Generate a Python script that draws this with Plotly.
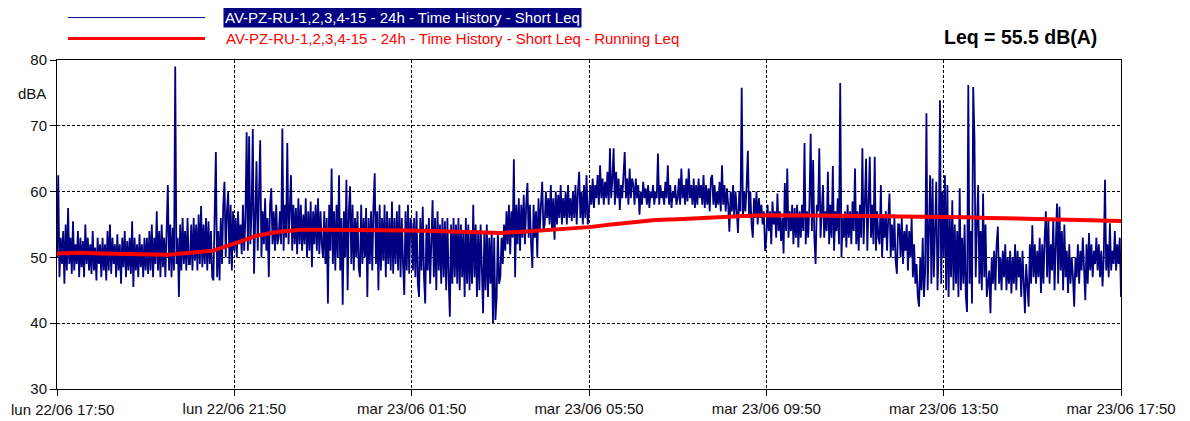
import pandas as pd
import plotly.graph_objects as go

# ---- data ----
start_time = "2020-06-22 17:50"
short_leq_step_s = 100          # 36 readings per hour
short_leq = [
    # 17:50
    50, 62.5, 47, 53, 49, 54, 46, 55, 48, 57.5, 49, 53, 47.5, 55.5, 48, 52, 49, 54, 47, 53,
    48.5, 52.5, 47, 55, 49, 53, 48, 52, 47.5, 54, 48, 51.5, 46.5, 53, 49, 52,
    # 18:50
    47, 53, 48, 52, 46.5, 54, 48, 55, 47.5, 53, 49, 52, 47, 53.5, 48, 52, 46, 53, 48.5, 54,
    47, 52.5, 48, 53, 47.5, 55.5, 45.5, 53, 48, 52, 47, 53.5, 48.5, 52, 47, 53,
    # 19:50
    48, 53, 47.5, 54, 48, 55, 47, 53, 49, 57, 48, 54, 47, 55, 48.5, 53, 47, 54, 61, 48,
    55, 47, 54.5, 48, 79, 49, 53, 44, 55, 48, 56, 49, 54, 48, 56, 49,
    # 20:50
    49, 55, 48, 56, 49.5, 55, 48, 56.5, 49, 57.8, 48.5, 55, 49, 56, 48, 55.5, 49, 54, 47, 46.5,
    55, 66, 47, 54, 46.5, 56, 49, 58, 61.5, 50, 57, 60, 49, 58, 48, 57,
    # 21:50
    51, 56, 50, 57, 52, 55, 50.5, 58, 51, 56, 69, 51, 68.4, 52, 57, 69.5, 47.5, 56, 64.6, 51,
    58, 67.8, 50, 57, 52, 59, 51, 56, 47, 58, 60.5, 52, 57, 51, 58, 52,
    # 22:50
    53, 57, 52, 69.6, 51, 58, 53, 67.4, 52, 57, 62.5, 51, 58, 52, 57.5, 50.5, 59, 52, 58, 51,
    56.5, 52, 59, 50, 57, 51, 58.5, 48.5, 57, 52, 58, 51, 59, 50.5, 57, 52,
    # 23:50
    50, 57, 49, 56, 43, 58, 51, 63.5, 49, 57, 48, 58, 50, 62.5, 48, 56, 42.8, 57, 50, 61.8,
    45, 57, 60.8, 49, 58, 48, 56, 50, 57, 48.5, 47, 58, 49, 56, 50, 57.5,
    # 00:50
    44, 56, 49, 57, 48, 58, 62.8, 49, 57, 45, 58, 48, 56, 49.5, 58, 47, 57, 49, 56, 48,
    58.5, 47.5, 56, 49, 57, 48, 58, 47, 56, 49, 44.3, 57, 48, 58, 47.5, 56,
    # 01:50
    55, 48, 56, 47, 57, 46, 44, 56, 48, 57.7, 47, 43, 55, 48, 56, 46, 55, 58.7, 47, 56,
    45, 57, 48, 55, 46, 56, 47, 55.5, 45, 56, 47, 41, 55, 46, 56, 47,
    # 02:50
    55, 46, 56, 45, 55, 47, 54, 44, 56, 46, 55, 45, 54, 46, 58, 47, 55, 44, 54, 45,
    55, 46, 41.5, 54, 45, 55, 44, 53, 46, 54, 40, 53, 40.5, 44, 54, 46,
    # 03:50
    47, 53, 49, 55, 51, 57, 52, 58, 50.5, 57, 53, 64.9, 47, 58, 52, 59, 51, 58, 53, 59.5,
    52, 58, 61.3, 53, 58, 52, 48.4, 58, 53, 57, 50, 59, 54, 58, 61.5, 54,
    # 04:50
    55, 60, 56, 59, 55, 61, 54, 59, 52.7, 60, 55, 59.5, 56, 61, 55, 59, 56, 60, 55, 61,
    56, 59, 55.5, 60, 56, 61, 55, 60, 63, 56, 60, 55, 61, 56, 62.5, 55,
    # 05:50
    57, 61, 58, 62, 57.5, 61, 59, 62.5, 58, 64, 59, 62, 58, 61.5, 59, 63, 58, 66.6, 59, 62,
    66.6, 58, 63, 59, 62, 57.2, 61, 59, 63, 66, 59, 62, 58, 63.5, 59, 62,
    # 06:50
    61, 58, 62, 59, 61, 56.5, 60, 58, 61.5, 59, 60.5, 58, 61, 57.5, 60, 59, 61, 58, 60, 59,
    65.8, 58, 61, 59, 60, 58, 61.5, 59, 64, 58, 61, 57.5, 60, 59, 61, 58,
    # 07:50
    59, 62, 58, 63.5, 59, 61, 58, 62, 58.5, 63.5, 59, 61, 58, 62, 57.5, 61, 58, 62, 59, 61,
    58, 62.5, 57.5, 61, 58, 60.5, 57, 62, 62.5, 58, 61, 57.5, 60, 58, 61.5, 57,
    # 08:50
    64, 58, 61, 57, 60.5, 58, 53.9, 60, 57, 61, 56, 60, 57, 53.7, 60, 57, 75.8, 56, 60, 57,
    61, 66.2, 56, 60, 55, 53, 59, 56, 60, 55, 59, 56, 58, 55, 57, 51,
    # 09:50
    53, 58, 54, 57, 52, 58.5, 55, 57, 53, 59.7, 54, 57, 52.5, 56, 50.6, 61.3, 54, 63.5, 53, 57,
    54, 58, 52, 57.5, 53, 58, 51.5, 57, 53, 58, 54, 67.4, 52, 57, 53, 58,
    # 10:50
    68.8, 54, 64.8, 53, 49, 58, 57, 66.6, 53, 58, 61, 53, 57, 54, 63, 52, 58, 53, 63.9, 51,
    57, 54, 59, 52, 76.5, 50, 56, 53, 57, 51.5, 58, 53, 57, 52, 58.5, 54,
    # 11:50
    63.5, 52, 57, 51, 58, 53, 66.6, 52, 58, 65, 51, 57, 65.3, 53, 58, 52, 65.3, 51, 57, 53,
    52, 61, 50, 56, 53, 57, 51, 56, 59.7, 50, 55, 51, 56, 49.5, 47.5, 55,
    # 12:50
    55, 50, 56, 49, 54, 51, 55, 48, 54, 50, 56, 47, 52, 46, 49, 44, 42.5, 50, 45, 53,
    44, 48, 71.9, 45, 52, 62.5, 46, 62, 47, 53, 61.5, 45, 52, 73.9, 46, 60,
    # 13:50
    50, 62.5, 45, 61, 44, 56, 47, 58.7, 45, 55, 46, 54, 44, 60.5, 45, 53, 46, 55, 44, 41.7,
    76.2, 46, 54, 43, 75.9, 68.3, 47, 55, 61, 46, 54, 45, 59.7, 47, 55, 44,
    # 14:50
    46, 48, 41.5, 50, 46, 51, 45, 52, 54.7, 46, 50, 45, 51, 47, 52, 45, 50, 46, 51, 44.5,
    50, 46, 52, 45, 51, 47, 50, 44, 51, 46, 41.5, 49, 45, 42.5, 52, 46,
    # 15:50
    54.9, 47, 52, 46, 51, 47, 53, 44.6, 52, 46, 53, 57, 47, 56, 46, 52, 48, 56, 45, 51,
    58.2, 46, 57.7, 48, 54, 45, 55, 47, 51, 44.6, 52, 46, 50, 47, 42.5, 50,
    # 16:50
    47, 52, 46, 51, 48, 53, 47, 43.5, 52, 46, 53.7, 48, 52, 47, 51, 49, 53, 48, 52, 47,
    51, 45.6, 50, 61.8, 48, 52, 47, 55.2, 48, 51, 49, 54, 48, 52, 49, 53,
    # 17:50
    44,
]

running_leq_step_min = 30
running_leq = [
    50.6, 50.7, 50.6, 50.5, 50.4, 50.4, 50.7, 51.0, 52.1, 53.3,
    53.9, 54.2, 54.2, 54.2, 54.2, 54.2, 54.1, 54.0, 53.9, 53.8,
    53.7, 53.9, 54.1, 54.3, 54.6, 55.0, 55.4, 55.7, 55.8, 56.0,
    56.2, 56.3, 56.4, 56.4, 56.4, 56.4, 56.3, 56.3, 56.2, 56.2,
    56.2, 56.1, 56.0, 55.9, 55.8, 55.8, 55.7, 55.6, 55.55,
]

tick_times = ["2020-06-22 17:50", "2020-06-22 21:50", "2020-06-23 01:50", "2020-06-23 05:50",
              "2020-06-23 09:50", "2020-06-23 13:50", "2020-06-23 17:50"]
tick_labels = ["lun 22/06 17:50", "lun 22/06 21:50", "mar 23/06 01:50", "mar 23/06 05:50",
               "mar 23/06 09:50", "mar 23/06 13:50", "mar 23/06 17:50"]
y_ticks = [30, 40, 50, 60, 70, 80]

series1_name = "AV-PZ-RU-1,2,3,4-15 - 24h - Time History - Short Leq"
series2_name = "AV-PZ-RU-1,2,3,4-15 - 24h - Time History - Short Leq - Running Leq"
leq_text = "Leq = 55.5 dB(A)"

# ---- build ----
t_short = pd.date_range(start_time, periods=len(short_leq), freq=f"{short_leq_step_s}s")
t_run = pd.date_range(start_time, periods=len(running_leq), freq=f"{running_leq_step_min}min")

NAVY = "#000080"
RED = "#ff0000"
FONT = "Liberation Sans, Arial, sans-serif"
TXT = "#111111"

fig = go.Figure()
fig.add_trace(go.Scatter(x=t_short, y=short_leq, mode="lines",
                         line=dict(color=NAVY, width=1.8), name=series1_name, showlegend=False))
fig.add_trace(go.Scatter(x=t_run, y=running_leq, mode="lines",
                         line=dict(color=RED, width=4), name=series2_name, showlegend=False))

# target plot box on screen (px): left 57, right 1121, top 59.5, bottom 389
BX0, BX1, BY0, BY1 = 57, 1121, 59.5, 389


def px(x):
    return (x - BX0) / (BX1 - BX0)


def py(y):
    return (BY1 - y) / (BY1 - BY0)


# first tick label is drawn as an annotation so it is not clipped at the page edge
tick_text_shown = [""] + tick_labels[1:]

fig.update_layout(
    width=1190, height=421,
    margin=dict(l=49, r=77, t=52, b=40, pad=0),
    paper_bgcolor="white", plot_bgcolor="white",
    font=dict(family=FONT, size=15, color=TXT),
    xaxis=dict(
        range=[tick_times[0], tick_times[-1]], automargin=False,
        tickvals=tick_times, ticktext=tick_text_shown, ticklabeloverflow="allow",
        showgrid=True, gridcolor="#000000", gridwidth=1, griddash="3px,2px",
        showline=True, linecolor="#000000", linewidth=1, mirror=True,
        ticks="outside", ticklen=6, tickcolor="#000000",
        tickfont=dict(size=15, color=TXT), zeroline=False,
    ),
    yaxis=dict(
        range=[30, 80], tickvals=y_ticks, automargin=False,
        showgrid=True, gridcolor="#000000", gridwidth=1, griddash="3px,2px",
        showline=True, linecolor="#000000", linewidth=1, mirror=True,
        ticks="outside", ticklen=6, tickcolor="#000000",
        tickfont=dict(size=15, color=TXT), zeroline=False,
    ),
    shapes=[
        dict(type="line", xref="paper", yref="paper", x0=px(68), x1=px(205), y0=py(17), y1=py(17),
             line=dict(color=NAVY, width=1)),
        dict(type="line", xref="paper", yref="paper", x0=px(68), x1=px(205), y0=py(38), y1=py(38),
             line=dict(color=RED, width=3)),
    ],
    annotations=[
        dict(text=series1_name, xref="paper", yref="paper", x=px(223), y=py(16.5), xanchor="left",
             yanchor="middle", showarrow=False, font=dict(size=15, color="white", family=FONT),
             bgcolor=NAVY, borderpad=1),
        dict(text=series2_name, xref="paper", yref="paper", x=px(224), y=py(38), xanchor="left",
             yanchor="middle", showarrow=False, font=dict(size=15, color=RED, family=FONT)),
        dict(text="<b>" + leq_text + "</b>", xref="paper", yref="paper", x=px(1020), y=py(36),
             xanchor="center", yanchor="middle", showarrow=False,
             font=dict(size=19.5, color="#000000", family=FONT)),
        dict(text="dBA", xref="paper", yref="paper", x=px(32), y=py(93), xanchor="center",
             yanchor="middle", showarrow=False, font=dict(size=15, color=TXT, family=FONT)),
        dict(text=tick_labels[0], xref="paper", yref="paper", x=px(9), y=py(409.5),
             xanchor="left", yanchor="middle", showarrow=False,
             font=dict(size=15, color=TXT, family=FONT)),
    ],
)

fig.write_html("out.html")
